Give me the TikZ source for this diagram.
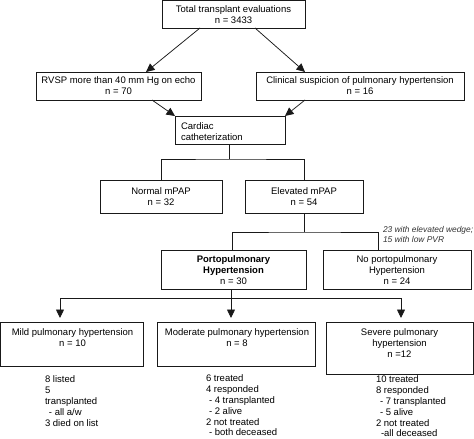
\documentclass[tikz,border=0pt]{standalone}
\usepackage{fontspec}
\setmainfont{Liberation Sans}
\usetikzlibrary{arrows.meta,calc}
\begin{document}
\begin{tikzpicture}[x=1pt,y=-1pt,
  every node/.style={inner sep=0pt,outer sep=0pt},
  box/.style={draw=black!90,line width=0.75pt,rectangle,align=center,font=\fontsize{9.5}{11}\selectfont},
  txt/.style={align=center,font=\fontsize{9.5}{11}\selectfont},
  list/.style={align=left,anchor=north west,font=\fontsize{9.5}{10.8}\selectfont},
  note/.style={align=left,anchor=north west,text=black!80,font=\fontsize{8.4}{10}\selectfont\itshape},
  conn/.style={draw=black!90,line width=0.75pt},
  arr/.style={conn,-{Triangle[length=8.5pt,width=8pt]}}]
\useasboundingbox (0,0) rectangle (474,439);

% boxes
\node[box,minimum width=143,minimum height=27.5] (top) at (233.5,14.25) {Total transplant evaluations\\n = 3433};
\node[box,minimum width=165,minimum height=28] (rvsp) at (118.5,86) {RVSP more than 40 mm Hg on echo\\n = 70};
\node[box,minimum width=208,minimum height=28] (clin) at (360,86) {Clinical suspicion of pulmonary hypertension\\n = 16};
\node[box,minimum width=110,minimum height=28] (card) at (230,130) {};
\node[txt,align=left,anchor=west] (cardt) at (181,131.5) {Cardiac\\catheterization};
\node[box,minimum width=122,minimum height=33] (normal) at (161,196.5) {Normal mPAP\\n = 32};
\node[box,minimum width=118,minimum height=33] (elev) at (304,196.5) {Elevated mPAP\\n = 54};
\node[box,minimum width=145,minimum height=39] (porto) at (233.5,270) {\textbf{Portopulmonary}\\\textbf{Hypertension}\\n = 30};
\node[box,minimum width=148,minimum height=39] (noporto) at (397,270) {No portopulmonary\\Hypertension\\n = 24};
\node[box,minimum width=142.5,minimum height=44] (mild) at (71.75,344) {};
\node[txt] (mildt) at (72.5,337.5) {Mild pulmonary hypertension\\n = 10};
\node[box,minimum width=158,minimum height=44] (mod) at (236,344) {};
\node[txt] (modt) at (237,337.5) {Moderate pulmonary hypertension\\n = 8};
\node[box,minimum width=147.5,minimum height=52] (sev) at (399.75,348) {};
\node[txt] (sevt) at (399.5,343.5) {Severe pulmonary\\hypertension\\n =12};

% annotation
\node[note] (ann) at (383,226) {23 with elevated wedge;\\15 with low PVR};

% outcome lists
\node[list] (mildl) at (45,376) {8 listed\\5\\transplanted\\\hspace*{4pt}- all a/w\\3 died on list};
\node[list] (modl) at (206,375) {6 treated\\4 responded\\\hspace*{3pt}- 4 transplanted\\\hspace*{3pt}- 2 alive\\2 not treated\\\hspace*{3pt}- both deceased};
\node[list] (sevl) at (376,376) {10 treated\\8 responded\\\hspace*{4pt}- 7 transplanted\\\hspace*{4pt}- 5 alive\\2 not treated\\\hspace*{5pt}-all deceased};

% connectors
\draw[arr] ([xshift=-33.5pt]top.south) -- ([xshift=27.5pt]rvsp.north);
\draw[arr] ([xshift=21.5pt]top.south) -- ([xshift=-55pt]clin.north);
\draw[arr] ([xshift=33.5pt]rvsp.south) -- (card.north west);
\draw[arr] ([xshift=-55pt]clin.south) -- (card.north east);

\draw[conn] ([xshift=-1pt]card.south) -- ++(0,15) coordinate (j1);
\draw[conn] (normal.north) |- (j1) -| (elev.north);

\draw[conn] (elev.south) -- ++(0,19) coordinate (j2);
\draw[conn] ([xshift=-1.5pt]porto.north) |- (j2) -| ([xshift=-19pt]noporto.north);

\draw[conn] ([xshift=-2.5pt]porto.south) -- ++(0,9) coordinate (j3);
\draw[arr] (j3) -| ([xshift=-11.75pt,yshift=4pt]mild.north);
\draw[arr] (j3) -- ([yshift=4pt]mod.north -| j3);
\draw[arr] (j3) -| ([xshift=1.25pt,yshift=4pt]sev.north);
\end{tikzpicture}
\end{document}
